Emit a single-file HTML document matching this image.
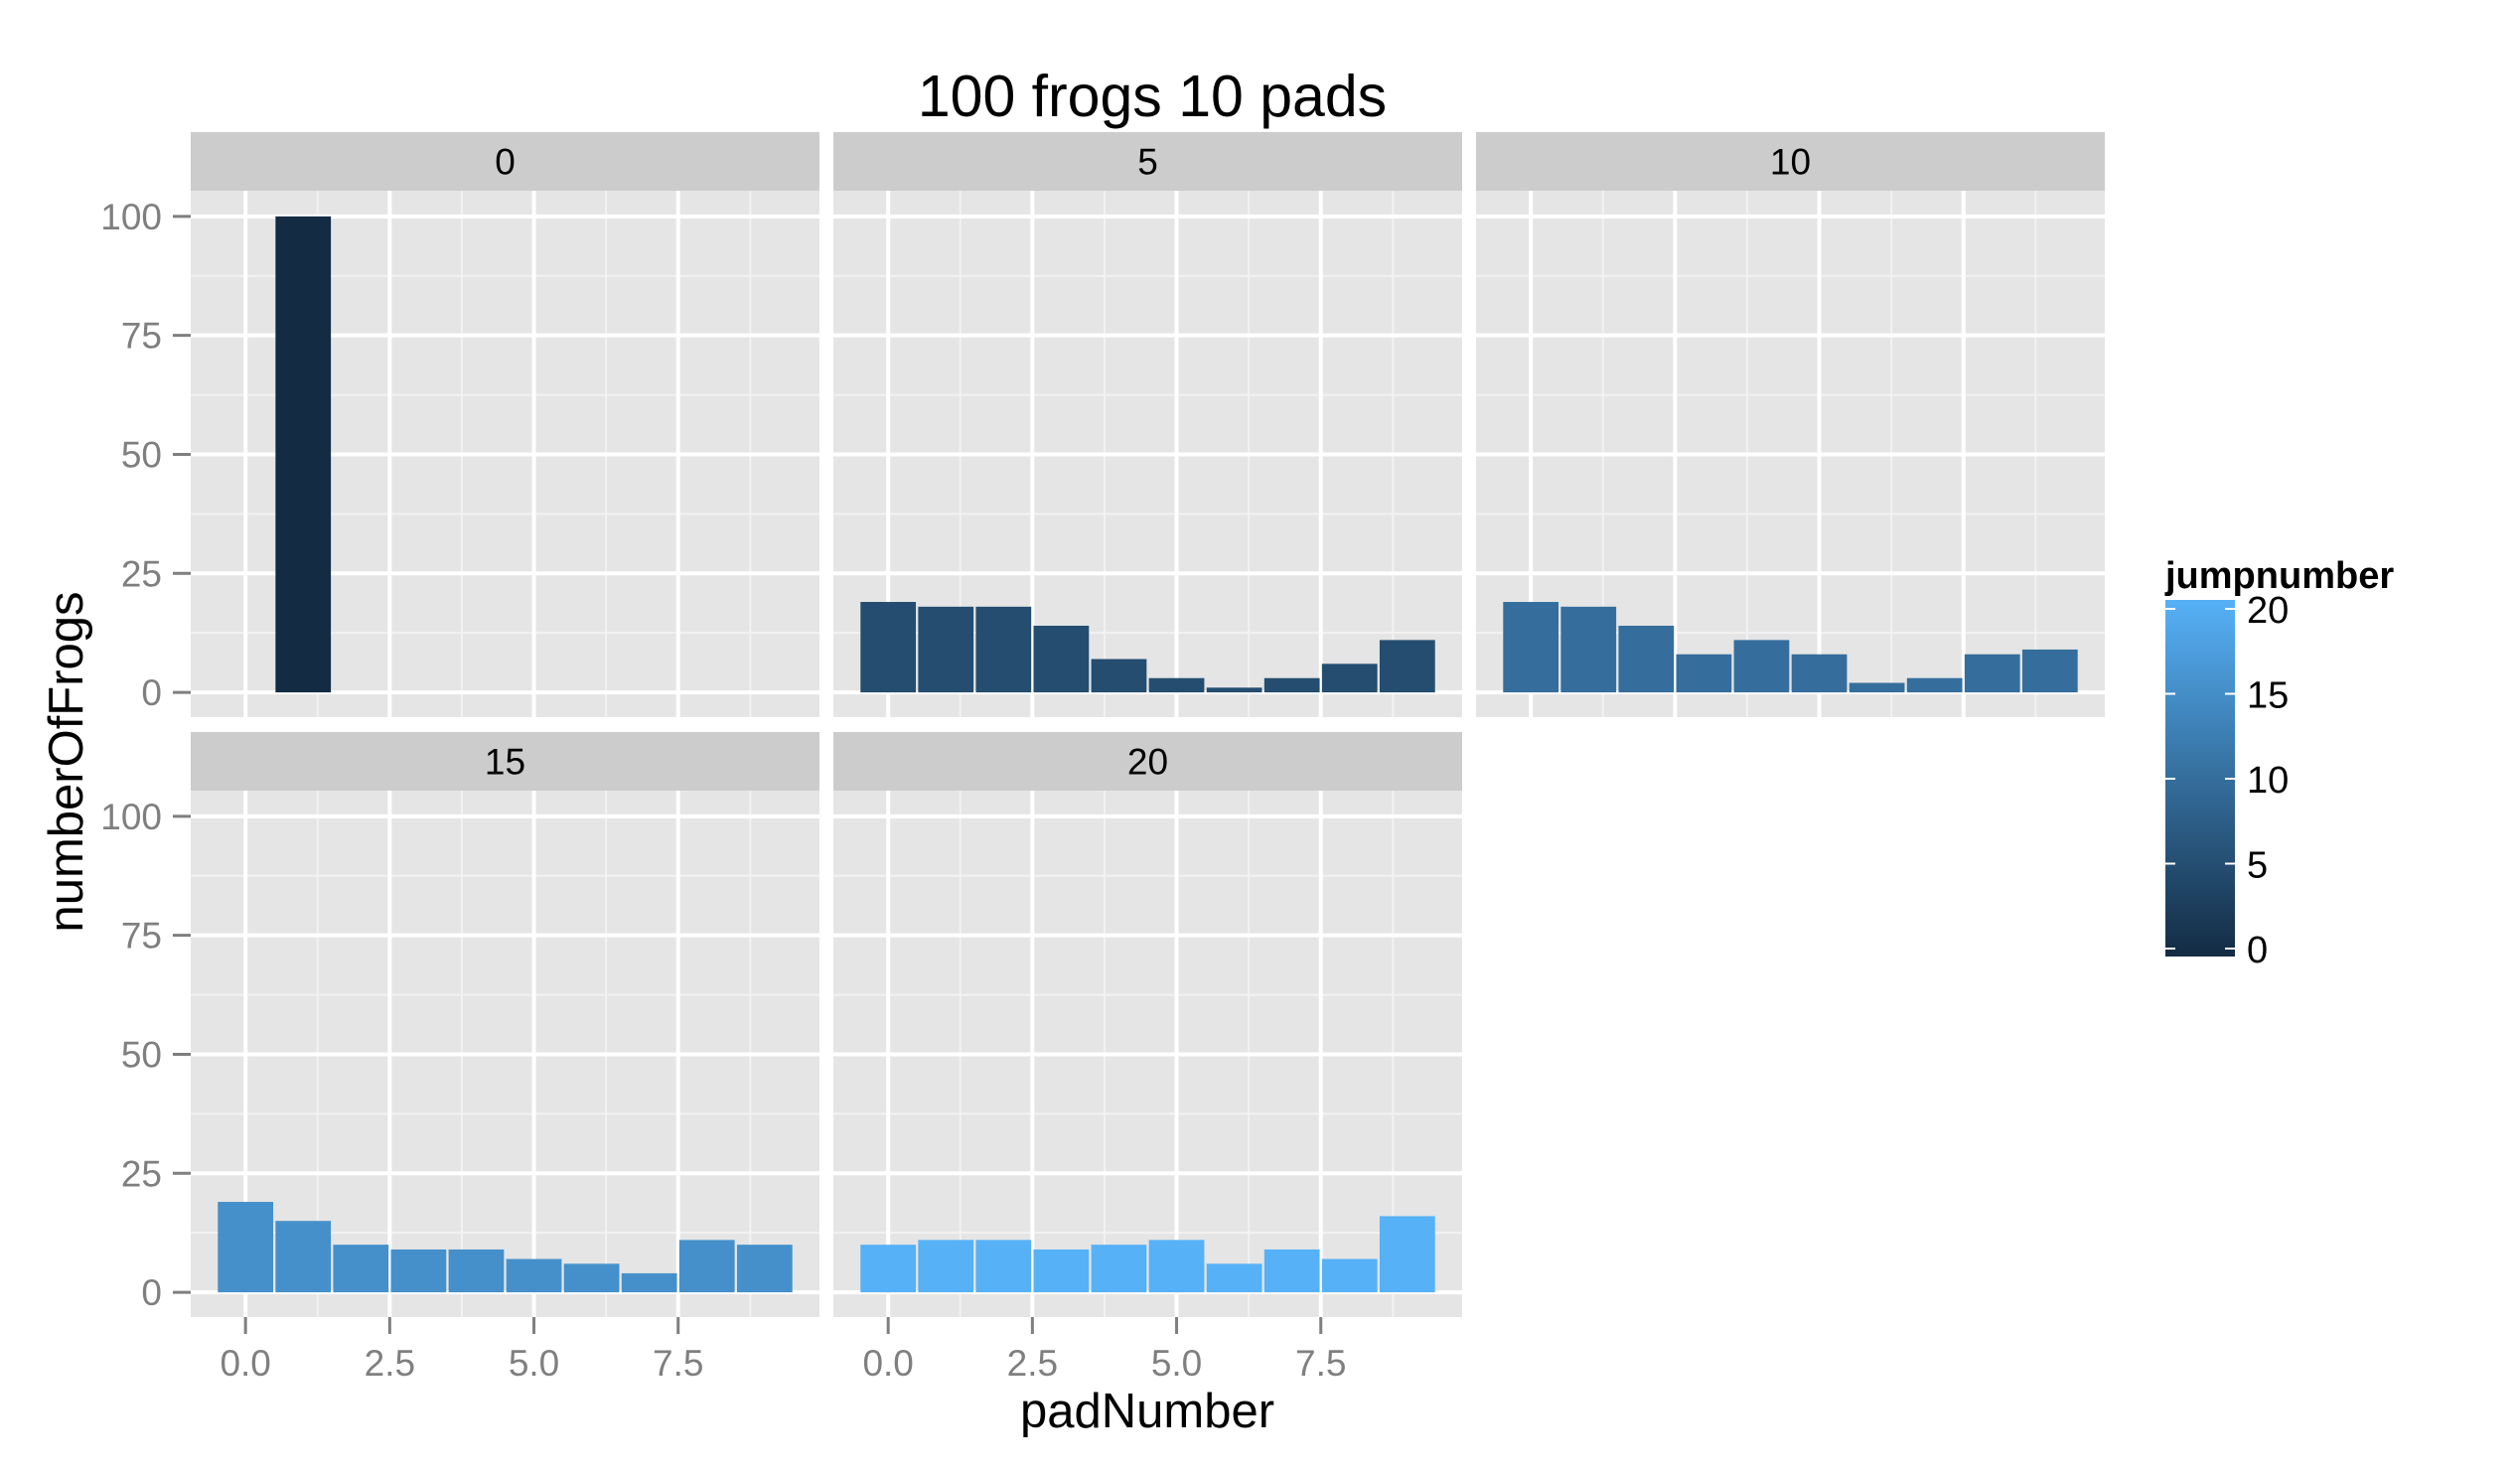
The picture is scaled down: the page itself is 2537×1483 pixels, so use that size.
<!DOCTYPE html>
<html><head><meta charset="utf-8"><style>
html,body{margin:0;padding:0;background:#fff}
svg{display:block;font-family:"Liberation Sans",sans-serif}
</style></head><body>
<svg id="chart" width="2537" height="1483" viewBox="0 0 2537 1483">
<text x="1160" y="117" font-size="59" text-anchor="middle">100 frogs 10 pads</text>
<g id="panels"></g>
<text x="1155" y="1437" font-size="49" text-anchor="middle">padNumber</text>
<text transform="translate(83,767) rotate(-90)" font-size="49" text-anchor="middle">numberOfFrogs</text>
<g id="legend"></g>
</svg>
<script>
const facets = [0, 5, 10, 15, 20];
const pads = [0,1,2,3,4,5,6,7,8,9];
const counts0 = [0,100,0,0,0,0,0,0,0,0];
const counts5 = [19,18,18,14,7,3,1,3,6,11];
const counts10 = [19,18,14,8,11,8,2,3,8,9];
const counts15 = [19,15,10,9,9,7,6,4,11,10];
const counts20 = [10,11,11,9,10,11,6,9,7,16];
const yTicks = [0,25,50,75,100];
const xTicks = [0,2.5,5,7.5];
const xTickLabels = ["0.0","2.5","5.0","7.5"];
const legendTicks = [0,5,10,15,20];
const allCounts = [counts0,counts5,counts10,counts15,counts20];

const NS="http://www.w3.org/2000/svg";
function mk(tag,attrs,parent){const e=document.createElementNS(NS,tag);for(const k in attrs)e.setAttribute(k,attrs[k]);parent.appendChild(e);return e;}
const W=633, GAP=14;
const colLeft=[192,839,1486];
const rowTop=[133,737];
const STRIP=59, PH=530;
const yDom=[-5.2,105.4], xDom=[-0.95,9.95];
function sx(left,v){return left+(v-xDom[0])/(xDom[1]-xDom[0])*W;}
function sy(top,v){const pt=top+STRIP;return pt+PH-(v-yDom[0])/(yDom[1]-yDom[0])*PH;}
function colorFor(j){const a=[19,43,67],b=[86,177,247];const t=j/20;return "rgb("+a.map((c,i)=>Math.round(c+(b[i]-c)*t)).join(",")+")";}

const panels=document.getElementById('panels');
facets.forEach((f,idx)=>{
  const col=idx%3,row=Math.floor(idx/3);
  const L=colLeft[col],T=rowTop[row];
  const g=mk('g',{},panels);
  
  
  const strip=mk('rect',{x:L,y:T,width:W,height:STRIP,fill:'#CCCCCC'},g);
  
  
  const st=mk('text',{x:L+W/2,y:T+STRIP/2+13,'font-size':37,'text-anchor':'middle',fill:'#000'},g);
  st.textContent=f;
  
  
  const pt=T+STRIP;
  const bg=mk('rect',{x:L,y:pt,width:W,height:PH,fill:'#E5E5E5'},g);
  
  
  for(let i=0;i<yTicks.length-1;i++){const v=(yTicks[i]+yTicks[i+1])/2;const y=sy(T,v);
    const l=mk('line',{x1:L,x2:L+W,y1:y,y2:y,stroke:'#F2F2F2','stroke-width':2},g);
    }
  for(let i=0;i<xTicks.length;i++){const v=xTicks[i]+1.25;if(v>xDom[1])continue;const x=sx(L,v);
    const l=mk('line',{x1:x,x2:x,y1:pt,y2:pt+PH,stroke:'#F2F2F2','stroke-width':2},g);
    }
  yTicks.forEach(v=>{const y=sy(T,v);
    const l=mk('line',{x1:L,x2:L+W,y1:y,y2:y,stroke:'#FFFFFF','stroke-width':4},g);
    });
  xTicks.forEach(v=>{const x=sx(L,v);
    const l=mk('line',{x1:x,x2:x,y1:pt,y2:pt+PH,stroke:'#FFFFFF','stroke-width':4},g);
    });
  const counts=allCounts[idx];
  pads.forEach((p,i)=>{const v=counts[i];if(v<=0)return;
    const x0=sx(L,p-0.48),x1=sx(L,p+0.48),y0=sy(T,0),y1=sy(T,v);
    const r=mk('rect',{x:x0,y:y1,width:x1-x0,height:y0-y1,fill:colorFor(f)},g);
    
    });
  if(col===0){yTicks.forEach(v=>{const y=sy(T,v);
    const tk=mk('line',{x1:174,x2:L,y1:y,y2:y,stroke:'#7F7F7F','stroke-width':3},g);
    
    const t=mk('text',{x:163,y:y+13,'font-size':37,'text-anchor':'end',fill:'#7F7F7F'},g);t.textContent=v;
    });}
  if(row===1){xTicks.forEach((v,i)=>{const x=sx(L,v);const yb=pt+PH;
    const tk=mk('line',{x1:x,x2:x,y1:yb,y2:yb+17,stroke:'#7F7F7F','stroke-width':3},g);
    
    const t=mk('text',{x:x,y:yb+59,'font-size':37,'text-anchor':'middle',fill:'#7F7F7F'},g);t.textContent=xTickLabels[i];
    });}
});

const lg=document.getElementById('legend');


const lt=mk('text',{x:2180,y:592,'font-size':38,'font-weight':'bold'},lg);lt.textContent='jumpnumber';

const defs=mk('defs',{},lg);
const gr=mk('linearGradient',{id:'cg',x1:0,y1:1,x2:0,y2:0},defs);
mk('stop',{offset:'0',['stop-color']:colorFor(0)},gr);
mk('stop',{offset:'1',['stop-color']:colorFor(20)},gr);
const cb=mk('rect',{x:2180,y:604,width:70,height:359,fill:'url(#cg)'},lg);

legendTicks.forEach(v=>{const y=955-(v/20)*(955-613);
  mk('line',{x1:2180,x2:2190,y1:y,y2:y,stroke:'#fff','stroke-width':2},lg);
  mk('line',{x1:2240,x2:2250,y1:y,y2:y,stroke:'#fff','stroke-width':2},lg);
  const t=mk('text',{x:2262,y:y+14,'font-size':38,fill:'#000'},lg);t.textContent=v;
  });
</script>
</body></html>
